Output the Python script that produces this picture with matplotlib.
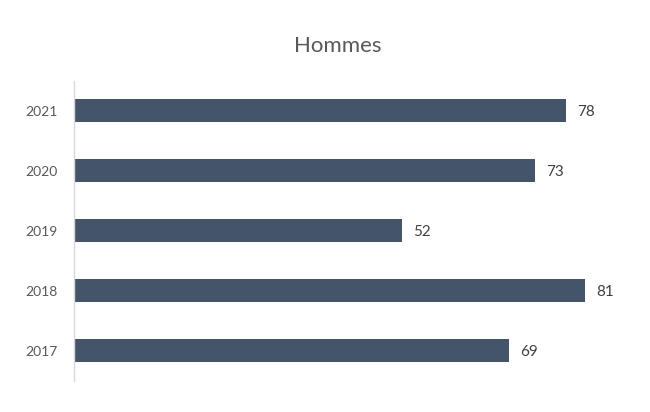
import matplotlib
matplotlib.use("Agg")
import matplotlib.pyplot as plt

years = ["2017", "2018", "2019", "2020", "2021"]
values = [69, 81, 52, 73, 78]

W, H = 650, 412
fig = plt.figure(figsize=(W / 100, H / 100), dpi=100)
left, right = 74, 642
top, bottom = 80.5, 380.5
ax = fig.add_axes([left / W, (H - bottom) / H, (right - left) / W, (bottom - top) / H])

bar_color = "#44546A"
pos = list(range(len(years)))
ax.barh(pos, values, height=0.37, color=bar_color)
ax.set_xlim(0, 90)
ax.set_ylim(-0.5, len(years) - 0.5)
ax.set_yticks(pos)
ax.set_yticklabels(years, fontsize=10, color="#595959", family="Lato")
ax.tick_params(axis="y", length=0, pad=12)
ax.set_xticks([])
for s in ["top", "right", "bottom"]:
    ax.spines[s].set_visible(False)
ax.spines["left"].set_color("#D9D9D9")
ax.spines["left"].set_linewidth(1)

for p, v in zip(pos, values):
    ax.annotate(str(v), xy=(v, p), xytext=(8, 0), textcoords="offset points",
                va="center_baseline", ha="left", fontsize=11, color="#404040", family="Lato")

fig.text(338 / W, 1 - 46 / H, "Hommes", ha="center", va="center",
         fontsize=16, color="#595959", family="Lato")

fig.savefig("out.png", dpi=100)
